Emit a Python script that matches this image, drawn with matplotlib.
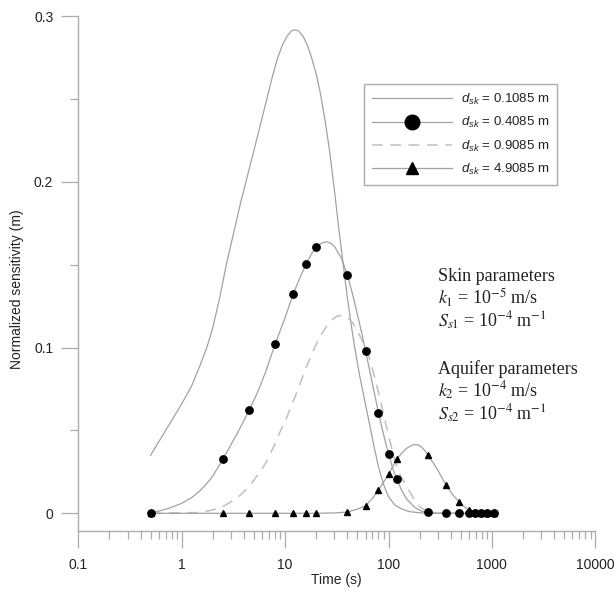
import matplotlib
matplotlib.use('Agg')
import matplotlib.pyplot as plt
from matplotlib.lines import Line2D
from matplotlib.ticker import FixedLocator, FixedFormatter, LogLocator, NullFormatter

# d_sk = 0.1085 m : plain grey line
time_a = [0.5, 1, 1.25, 1.5, 1.75, 2, 2.35, 2.7, 3.2, 3.7, 4.3, 5, 5.8, 6.6, 7.5, 8.5, 9.5, 10.5,
          11.5, 12.5, 13.5, 15, 16.5, 18, 20, 22, 24.5, 27, 30, 33, 36.5, 40, 44, 48, 53, 58, 65,
          72, 80, 90, 100, 115, 135, 160, 200, 240, 1080]
sens_a = [0.035, 0.066, 0.077, 0.089, 0.1, 0.112, 0.131, 0.15, 0.17, 0.187, 0.203, 0.219, 0.235,
          0.249, 0.263, 0.275, 0.283, 0.288, 0.291, 0.2917, 0.291, 0.2875, 0.282, 0.275, 0.265,
          0.253, 0.236, 0.218, 0.195, 0.172, 0.15, 0.13, 0.112, 0.097, 0.082, 0.07, 0.055, 0.041,
          0.028, 0.017, 0.01, 0.005, 0.0025, 0.001, 0.0003, 0, 0]

# d_sk = 0.4085 m : grey line + black circles
time_b = [0.5, 0.75, 1, 1.25, 1.5, 1.75, 2, 2.5, 3, 3.5, 4, 4.5, 5.5, 6.5, 8, 10, 12, 14, 16, 18,
          20, 22.5, 25, 27.5, 30, 35, 40, 45, 50, 55, 60, 70, 80, 90, 100, 110, 120, 135, 150,
          180, 210, 240, 300, 1080]
sens_b = [0, 0.003, 0.006, 0.0095, 0.0135, 0.018, 0.0225, 0.0326, 0.0415, 0.049, 0.056, 0.0623,
          0.074, 0.0855, 0.102, 0.118, 0.1325, 0.1425, 0.1506, 0.1565, 0.1605, 0.163, 0.1638,
          0.163, 0.161, 0.154, 0.1437, 0.132, 0.12, 0.109, 0.098, 0.078, 0.0607, 0.047, 0.0358,
          0.027, 0.0207, 0.0135, 0.0085, 0.0035, 0.0012, 0.0005, 0, 0]
mark_time_b = [0.5, 2.5, 4.5, 8, 12, 16, 20, 40, 60, 80, 100, 120, 240, 360, 480, 600, 680, 780,
               900, 1050]
mark_sens_b = [0, 0.0326, 0.0623, 0.102, 0.1325, 0.1506, 0.1605, 0.1437, 0.098, 0.0607, 0.0358,
               0.0207, 0.0006, 0, 0, 0, 0, 0, 0, 0]

# d_sk = 0.9085 m : dashed light grey line
time_c = [0.5, 1.5, 2, 2.5, 3, 3.7, 4.3, 5, 5.8, 6.6, 8, 9, 10.4, 11.5, 13, 14.5, 16, 18, 20, 22.5,
          25, 28, 32, 36, 40, 45, 50, 57, 65, 75, 85, 100, 115, 130, 150, 175, 200, 240, 280, 1080]
sens_c = [0, 0.0005, 0.002, 0.004, 0.007, 0.011, 0.015, 0.02, 0.0255, 0.031, 0.042, 0.0495, 0.058,
          0.065, 0.073, 0.081, 0.088, 0.0955, 0.102, 0.108, 0.1125, 0.1165, 0.119, 0.1195, 0.118,
          0.115, 0.11, 0.103, 0.094, 0.08, 0.066, 0.047, 0.032, 0.023, 0.016, 0.009, 0.004, 0.001,
          0, 0]

# d_sk = 4.9085 m : grey line + black triangles
time_d = [0.5, 20, 30, 40, 50, 60, 70, 80, 90, 100, 110, 120, 135, 150, 165, 180, 195, 210, 225,
          240, 270, 300, 330, 360, 420, 480, 540, 600, 700, 800, 1080]
sens_d = [0, 0, 0.0002, 0.0008, 0.0025, 0.0046, 0.009, 0.014, 0.019, 0.0235, 0.0282, 0.0326,
          0.0365, 0.0392, 0.0408, 0.0415, 0.0412, 0.0398, 0.0378, 0.0352, 0.0305, 0.026, 0.0212,
          0.0171, 0.011, 0.007, 0.004, 0.002, 0.0005, 0, 0]
mark_time_d = [0.5, 2.5, 4.5, 8, 12, 16, 20, 40, 60, 80, 100, 120, 240, 360, 480, 600, 680, 780,
               900, 1050]
mark_sens_d = [0, 0, 0, 0, 0, 0, 0, 0.0008, 0.0046, 0.014, 0.0235, 0.0326, 0.0352, 0.0171, 0.007,
               0.002, 0.0005, 0, 0, 0]

legend_labels = [r'$d_{sk}$ = 0.1085 m', r'$d_{sk}$ = 0.4085 m',
                 r'$d_{sk}$ = 0.9085 m', r'$d_{sk}$ = 4.9085 m']

x_ticks = [0.1, 1, 10, 100, 1000, 10000]
x_tick_labels = ['0.1', '1', '10', '100', '1000', '10000']
y_ticks = [0, 0.1, 0.2, 0.3]
y_tick_labels = ['0', '0.1', '0.2', '0.3']
y_minor_ticks = [0.05, 0.15, 0.25]

note_lines = ['Skin parameters',
              r'$k_1$ = 10$^{-5}$ m/s',
              r'$S_{s1}$ = 10$^{-4}$ m$^{-1}$',
              'Aquifer parameters',
              r'$k_2$ = 10$^{-4}$ m/s',
              r'$S_{s2}$ = 10$^{-4}$ m$^{-1}$']
note_baselines = [281, 304, 327, 374, 397, 420]  # pixel rows from the top

plt.rcParams['font.family'] = ['Liberation Sans', 'DejaVu Sans']
plt.rcParams['mathtext.fontset'] = 'custom'
plt.rcParams['mathtext.rm'] = 'Liberation Sans'
plt.rcParams['mathtext.it'] = 'Liberation Sans:italic'

W, H = 614, 589
line_grey = '#a2a2a2'
dash_grey = '#c0c0c0'
axis_grey = '#acacac'
text_col = '#222222'

fig = plt.figure(figsize=(W / 100, H / 100), dpi=100)
ax = fig.add_axes([78.3 / W, 1 - 530.7 / H, 517 / W, 514.7 / H])

ax.plot(time_a, sens_a, color=line_grey, lw=0.9)
ax.plot(time_c, sens_c, color=dash_grey, lw=1.1, ls=(0, (7, 5)))
ax.plot(time_b, sens_b, color=line_grey, lw=0.9)
ax.plot(time_d, sens_d, color=line_grey, lw=0.9)
ax.plot(mark_time_b, mark_sens_b, 'o', color='black', ms=5.3, mec='black')
ax.plot(mark_time_d, mark_sens_d, '^', color='black', ms=4.6, mec='black')

ax.set_xscale('log')
ax.set_xlim(0.1, 10000)
ax.set_ylim(-0.0105, 0.3)

ax.xaxis.set_major_locator(FixedLocator(x_ticks))
ax.xaxis.set_major_formatter(FixedFormatter(x_tick_labels))
ax.xaxis.set_minor_locator(LogLocator(base=10, subs=range(2, 10), numticks=20))
ax.xaxis.set_minor_formatter(NullFormatter())
ax.yaxis.set_major_locator(FixedLocator(y_ticks))
ax.yaxis.set_major_formatter(FixedFormatter(y_tick_labels))
ax.yaxis.set_minor_locator(FixedLocator(y_minor_ticks))

for side in ['top', 'right']:
    ax.spines[side].set_visible(False)
for side in ['left', 'bottom']:
    ax.spines[side].set_color(axis_grey)
    ax.spines[side].set_linewidth(1.0)

ax.tick_params(which='major', direction='out', length=12, width=0.9, color=axis_grey,
               labelsize=10, labelcolor=text_col)
ax.tick_params(which='minor', direction='out', length=5.5, width=0.9, color=axis_grey)
ax.tick_params(axis='x', which='major', pad=8)
ax.tick_params(axis='y', which='major', pad=6)

ax.set_xlabel('Time (s)', fontsize=10, color=text_col, va='center')
ax.xaxis.set_label_coords(0.5, -0.0958)
ax.set_ylabel('Normalized sensitivity (m)', fontsize=10, color=text_col, va='center')
ax.yaxis.set_label_coords(-0.118, 0.47)

# legend proxies
handles = [Line2D([], [], color=line_grey, lw=0.9),
           Line2D([], [], color=line_grey, lw=0.9, marker='o', ms=10.5, mfc='black', mec='black'),
           Line2D([], [], color=dash_grey, lw=1.1, ls=(0, (7, 5))),
           Line2D([], [], color=line_grey, lw=0.9, marker='^', ms=9, mfc='black', mec='black')]
leg = ax.legend(handles, legend_labels, loc='upper left',
                bbox_to_anchor=(364 / W, 1 - 84 / H), bbox_transform=fig.transFigure,
                borderaxespad=0, fancybox=False, framealpha=1, edgecolor=axis_grey,
                fontsize=9.5, handlelength=6.1, handletextpad=0.64, borderpad=0.6,
                labelspacing=0.62, markerscale=1.0)
leg.get_frame().set_linewidth(1.0)
for t in leg.get_texts():
    t.set_color(text_col)

for line, base in zip(note_lines, note_baselines):
    fig.text(438 / W, 1 - base / H, line, fontsize=13, family='Liberation Serif',
             math_fontfamily='stix', color=text_col, va='baseline', ha='left')

fig.savefig('out.png', dpi=100)
plt.close(fig)
